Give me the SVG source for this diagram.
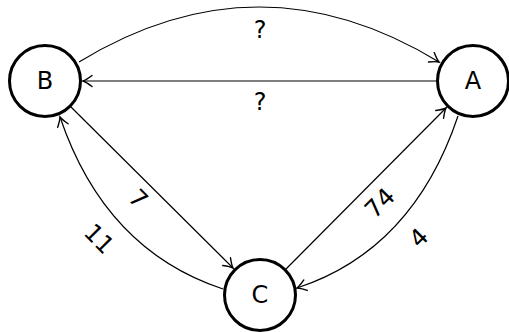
<svg xmlns="http://www.w3.org/2000/svg" width="509" height="332" viewBox="0 0 509 332">
<style>
.node circle{fill:#fff;stroke:#000;stroke-width:3}
text{font-family:"DejaVu Sans",sans-serif;font-size:24px;fill:#000;text-anchor:middle;dominant-baseline:central}
.edge{fill:none;stroke:#000;stroke-width:1.2;marker-end:url(#arr)}
</style>
<defs>
<marker id="arr" markerUnits="userSpaceOnUse" markerWidth="14" markerHeight="14" viewBox="-12 -7 14 14" refX="0" refY="0" orient="auto">
<path d="M-9,-5.5 Q-3,-1 0,0 Q-3,1 -9,5.5" fill="none" stroke="#000" stroke-width="1.4" stroke-linecap="round"/>
</marker>
</defs>
<rect width="509" height="332" fill="#fff"/>
<g id="connectors">
<path class="edge" d="M79,62 Q259,-48 439,62"/>
<path class="edge" d="M436,81 L83,81"/>
<path class="edge" d="M71,107 L233,268"/>
<path class="edge" d="M223,289 Q105,250 60,117"/>
<path class="edge" d="M286,269 L446,108"/>
<path class="edge" d="M458,116 Q413,250 297,288"/>
<text x="260" y="30">?</text>
<text x="260" y="102">?</text>
<text transform="translate(138,199) rotate(45)">7</text>
<text transform="translate(99,239) rotate(45)">11</text>
<text transform="translate(380,203) rotate(-45)">74</text>
<text transform="translate(419,238) rotate(-45)">4</text>
</g>
<g id="node-B" class="node"><circle cx="45" cy="81" r="35.5"/><text x="45" y="81">B</text></g>
<g id="node-A" class="node"><circle cx="473" cy="81" r="35.5"/><text x="473" y="81">A</text></g>
<g id="node-C" class="node"><circle cx="260" cy="295" r="35.5"/><text x="260" y="295">C</text></g>
</svg>
